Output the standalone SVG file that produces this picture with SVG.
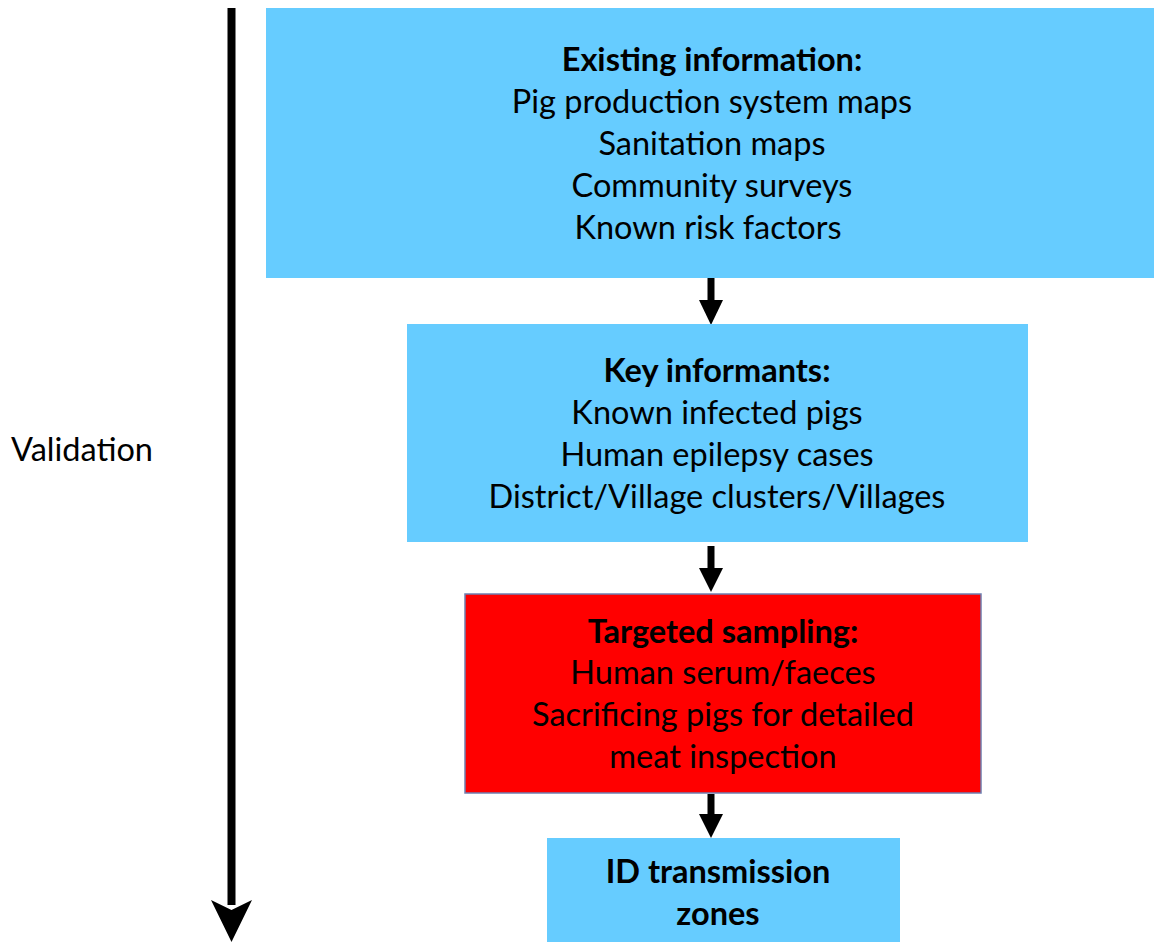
<svg xmlns="http://www.w3.org/2000/svg" width="1154" height="942" viewBox="0 0 1154 942">
<style>
.t{font-family:Lato,"Liberation Sans",sans-serif;font-size:32.5px;fill:#000;text-anchor:middle}
.b{font-weight:bold}
.blue{fill:#66CCFF}
.red{fill:#FF0000;stroke:#6F7FB0;stroke-width:1.5}
</style>
<rect width="1154" height="942" fill="#fff"/>
<g id="connectors" stroke="#000" fill="#000">
<line x1="231.5" y1="8" x2="231.5" y2="905" stroke-width="8"/>
<path d="M211,900 L231.5,910 L252,900 L231.5,942 Z" stroke="none"/>
<line x1="711" y1="278" x2="711" y2="301" stroke-width="7"/>
<path d="M699,300 L723,300 L711,325 Z" stroke="none"/>
<line x1="711" y1="546" x2="711" y2="569" stroke-width="7"/>
<path d="M699,568 L723,568 L711,592 Z" stroke="none"/>
<line x1="711" y1="794" x2="711" y2="815" stroke-width="7"/>
<path d="M699,814 L723,814 L711,838 Z" stroke="none"/>
</g>
<g id="validation"><text class="t" x="82" y="461">Validation</text></g>
<g id="existing">
<rect class="blue" x="266" y="8" width="888" height="270"/>
<text class="t b" x="712" y="71">Existing information:</text>
<text class="t" x="712" y="113">Pig production system maps</text>
<text class="t" x="712" y="155">Sanitation maps</text>
<text class="t" x="712" y="197">Community surveys</text>
<text class="t" x="708" y="239">Known risk factors</text>
</g>
<g id="key">
<rect class="blue" x="407" y="324" width="621" height="218"/>
<text class="t b" x="717" y="382">Key informants:</text>
<text class="t" x="717" y="424">Known infected pigs</text>
<text class="t" x="717" y="466">Human epilepsy cases</text>
<text class="t" x="717" y="508">District/Village clusters/Villages</text>
</g>
<g id="targeted">
<rect class="red" x="465" y="594" width="516" height="199"/>
<text class="t b" x="723" y="643">Targeted sampling:</text>
<text class="t" x="723" y="684">Human serum/faeces</text>
<text class="t" x="723" y="726">Sacrificing pigs for detailed</text>
<text class="t" x="723" y="768">meat inspection</text>
</g>
<g id="zones">
<rect class="blue" x="547" y="838" width="353" height="104"/>
<text class="t b" x="718" y="883">ID transmission</text>
<text class="t b" x="718" y="925">zones</text>
</g>
</svg>
